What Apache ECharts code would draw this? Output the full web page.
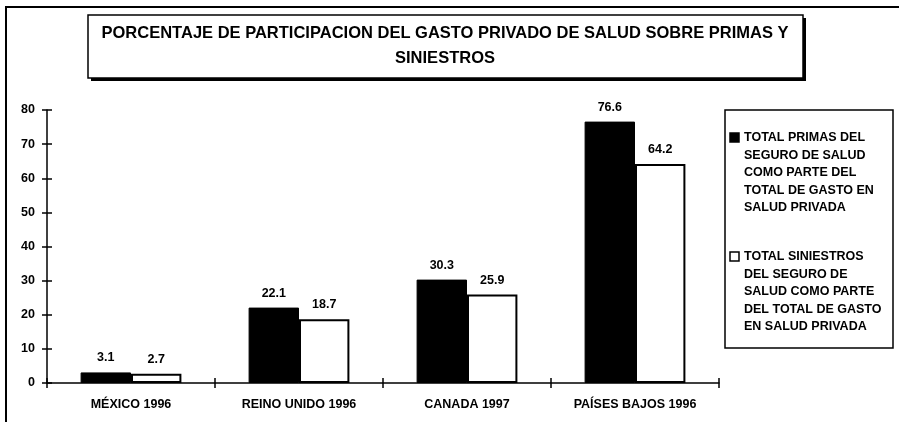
<!DOCTYPE html>
<html>
<head>
<meta charset="utf-8">
<script src="https://cdn.jsdelivr.net/npm/echarts@6/dist/echarts.min.js"></script>
<style>
  html, body { margin: 0; padding: 0; background: #fff; }
  #chart { width: 899px; height: 422px; }
</style>
</head>
<body>
<div id="chart"></div>
<script>
const categories = ['MÉXICO 1996', 'REINO UNIDO 1996', 'CANADA 1997', 'PAÍSES BAJOS 1996']
const primas = [3.1, 22.1, 30.3, 76.6]
const siniestros = [2.7, 18.7, 25.9, 64.2]
const titleLines = ['PORCENTAJE DE PARTICIPACION DEL GASTO PRIVADO DE SALUD SOBRE PRIMAS Y', 'SINIESTROS']
const namePrimas = ['TOTAL PRIMAS DEL', 'SEGURO DE SALUD', 'COMO PARTE DEL', 'TOTAL DE GASTO EN', 'SALUD PRIVADA']
const nameSin = ['TOTAL SINIESTROS', 'DEL SEGURO DE', 'SALUD COMO PARTE', 'DEL TOTAL DE GASTO', 'EN SALUD PRIVADA']

const font = 'Liberation Sans'
const chart = echarts.init(document.getElementById('chart'))

const txt = (size) => ({ color: '#000', fontFamily: font, fontWeight: 'bold', fontSize: size })
const labelStyle = { show: true, position: 'top', distance: 8, ...txt(12.5) }

// legend drawn by hand so the swatch sits on the first text line
function legendBlock(lines, y, fill) {
  return [
    { type: 'rect', shape: { x: 730, y: y - 5, width: 9, height: 9 }, style: { fill: fill, stroke: '#000', lineWidth: 1.5 } },
    { type: 'text', x: 744, y: y - 8.75, style: { text: lines.join('\n'), fill: '#000', font: 'bold 12.5px "Liberation Sans"', lineHeight: 17.5, align: 'left', verticalAlign: 'top' } }
  ]
}

chart.setOption({
  animation: false,
  backgroundColor: '#fff',
  graphic: [
    // outer frame lines
    { type: 'line', shape: { x1: 6, y1: 6, x2: 6, y2: 422 }, style: { stroke: '#000', lineWidth: 2 } },
    { type: 'line', shape: { x1: 5, y1: 7, x2: 899, y2: 7 }, style: { stroke: '#000', lineWidth: 2 } },
    // title box with shadow
    { type: 'rect', shape: { x: 91, y: 18, width: 715, height: 63 }, style: { fill: '#000' } },
    { type: 'rect', shape: { x: 88, y: 15, width: 715, height: 63 }, style: { fill: '#fff', stroke: '#000', lineWidth: 1.5 } },
    { type: 'text', x: 445, y: 33, style: { text: titleLines[0], fill: '#000', font: 'bold 16.5px "Liberation Sans"', align: 'center', verticalAlign: 'middle' } },
    { type: 'text', x: 445, y: 58, style: { text: titleLines[1], fill: '#000', font: 'bold 16.5px "Liberation Sans"', align: 'center', verticalAlign: 'middle' } },
    // legend box
    { type: 'rect', shape: { x: 725, y: 110, width: 168, height: 238 }, style: { fill: 'none', stroke: '#000', lineWidth: 1.5 } },
    ...legendBlock(namePrimas, 138, '#000'),
    ...legendBlock(nameSin, 257, '#fff')
  ],
  grid: { left: 47, right: 180, top: 110, bottom: 39 },
  xAxis: [
    {
      type: 'category',
      data: categories,
      axisLine: { lineStyle: { color: '#000', width: 1.5 } },
      axisTick: { show: true, length: 5, lineStyle: { color: '#000', width: 1.5 } },
      axisLabel: { ...txt(12.5), margin: 15 }
    },
    {
      type: 'category',
      data: categories,
      position: 'bottom',
      axisLine: { show: false },
      axisTick: { show: true, inside: true, length: 5, lineStyle: { color: '#000', width: 1.5 } },
      axisLabel: { show: false }
    }
  ],
  yAxis: [
    {
      type: 'value',
      min: 0, max: 80, interval: 10,
      axisLine: { show: true, lineStyle: { color: '#000', width: 1.5 } },
      axisTick: { show: true, length: 5, lineStyle: { color: '#000', width: 1.5 } },
      splitLine: { show: false },
      axisLabel: { ...txt(12.5), margin: 12 }
    },
    {
      type: 'value',
      min: 0, max: 80, interval: 10,
      position: 'left',
      axisLine: { show: false },
      axisTick: { show: true, inside: true, length: 5, lineStyle: { color: '#000', width: 1.5 } },
      splitLine: { show: false },
      axisLabel: { show: false }
    }
  ],
  series: [
    {
      name: namePrimas.join(' '), type: 'bar', data: primas,
      barGap: '0%', barCategoryGap: '40%',
      itemStyle: { color: '#000', borderColor: '#000', borderWidth: 1 },
      label: labelStyle
    },
    {
      name: nameSin.join(' '), type: 'bar', data: siniestros,
      itemStyle: { color: '#fff', borderColor: '#000', borderWidth: 2 },
      label: labelStyle
    }
  ]
})
</script>
</body>
</html>
